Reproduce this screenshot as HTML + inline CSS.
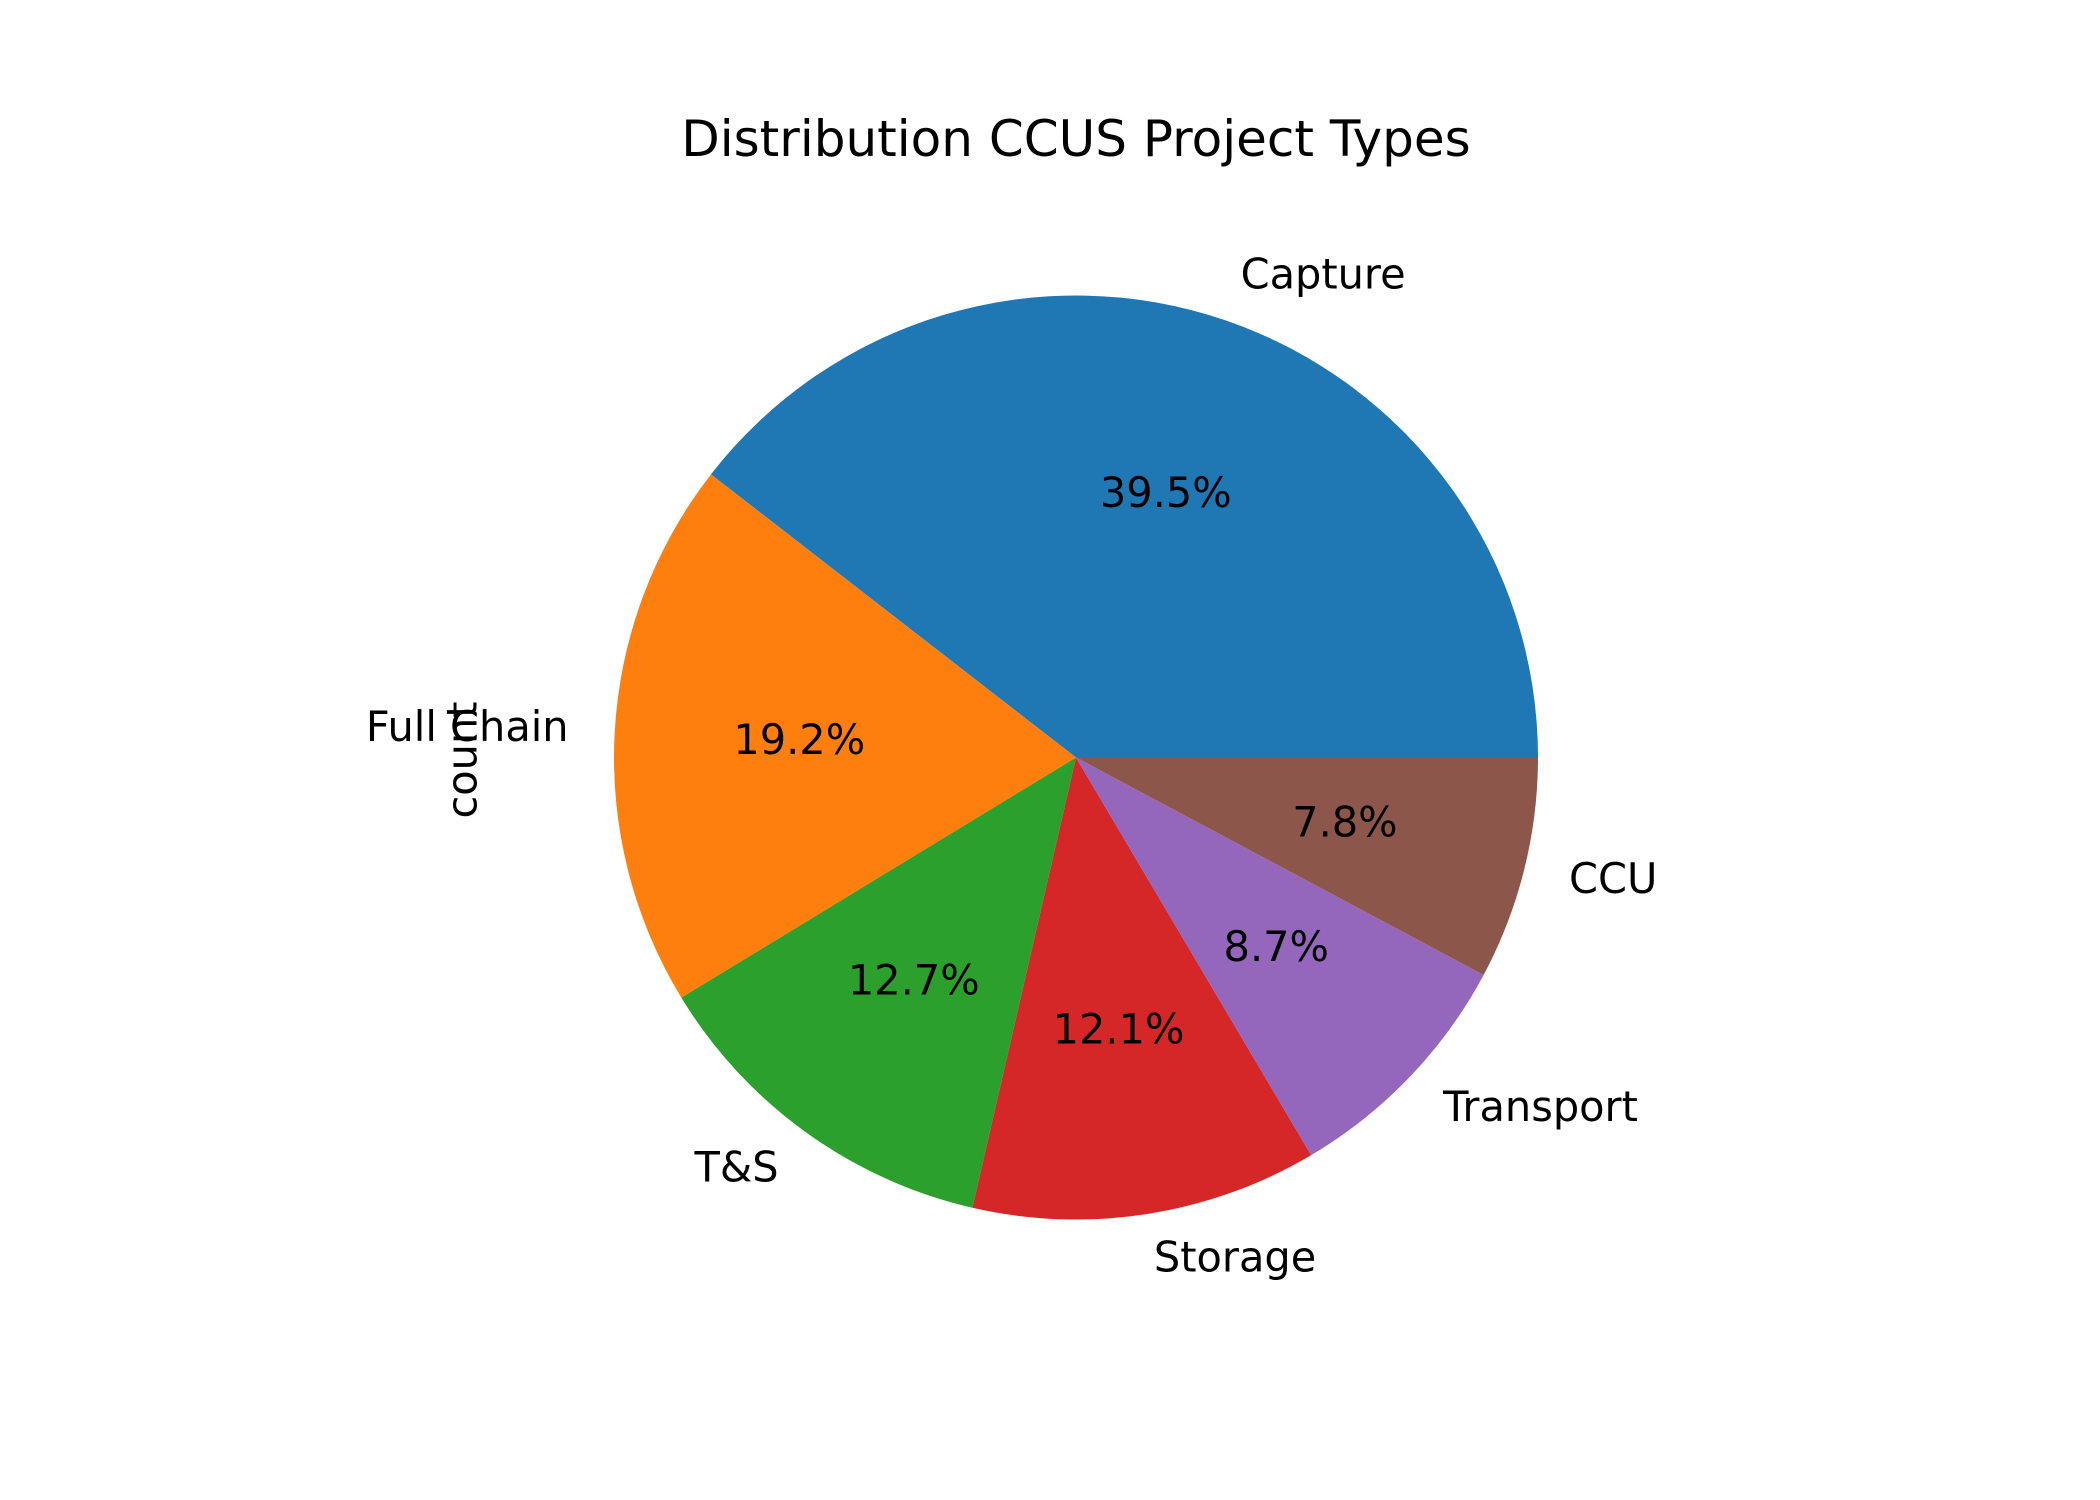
<!DOCTYPE html>
<html><head><meta charset="utf-8"><style>
html,body{margin:0;padding:0;background:#fff}
svg{display:block;font-family:"DejaVu Sans","Liberation Sans",sans-serif}
</style></head><body>
<svg id="chart" width="2100" height="1500" viewBox="0 0 2100 1500">
<rect width="2100" height="1500" fill="#fff"/>
<text x="1076" y="156" font-size="50" text-anchor="middle">Distribution CCUS Project Types</text>
<text transform="translate(462,760) rotate(-90)" font-size="41.5" text-anchor="middle" dominant-baseline="central">count</text>
<g id="slices"></g>
<g id="labels"></g>
</svg>
<script>
const categories = ["Capture","Full Chain","T&S","Storage","Transport","CCU"];
const values = [39.5,19.2,12.7,12.1,8.7,7.8];
const colors = ["#1f77b4","#ff7f0e","#2ca02c","#d62728","#9467bd","#8c564b"];
const cx=1076, cy=757.5, R=462;
const NS="http://www.w3.org/2000/svg";
const total=values.reduce((a,b)=>a+b,0);
const sg=document.getElementById('slices'), lg=document.getElementById('labels');
function pt(a,r){return [cx+r*Math.cos(a), cy-r*Math.sin(a)];}
let start=0;
values.forEach((v,i)=>{
  const sweep=v/total*2*Math.PI, end=start+sweep;
  const [x1,y1]=pt(start,R),[x2,y2]=pt(end,R);
  const p=document.createElementNS(NS,'path');
  p.setAttribute('d',`M${cx},${cy} L${x1},${y1} A${R},${R} 0 ${sweep>Math.PI?1:0} 0 ${x2},${y2} Z`);
  p.setAttribute('fill',colors[i]);
  
  
  sg.appendChild(p);
  const mid=(start+end)/2;
  const [lx,ly]=pt(mid,R*1.1);
  const t=document.createElementNS(NS,'text');
  t.setAttribute('x',lx);t.setAttribute('y',ly-2.5);
  t.setAttribute('font-size','41.5');
  t.setAttribute('text-anchor',Math.cos(mid)>0?'start':'end');
  t.setAttribute('dominant-baseline','central');
  t.textContent=categories[i];
  
  
  lg.appendChild(t);
  const [px,py]=pt(mid,R*0.6);
  const q=document.createElementNS(NS,'text');
  q.setAttribute('x',px);q.setAttribute('y',py-2.5);
  q.setAttribute('font-size','41.5');
  q.setAttribute('text-anchor','middle');
  q.setAttribute('dominant-baseline','central');
  q.textContent=(v/total*100).toFixed(1)+'%';
  
  
  lg.appendChild(q);
  start=end;
});
</script>
</body></html>
